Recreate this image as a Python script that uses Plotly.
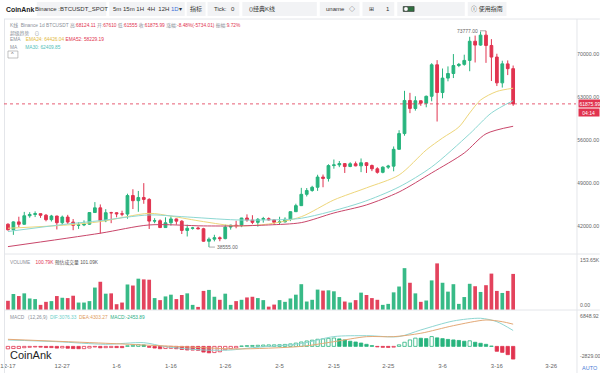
import plotly.graph_objects as go
import pandas as pd

# ---------------- data ----------------
dates = pd.date_range("2023-12-17", "2024-03-19", freq="D").strftime("%Y-%m-%d").tolist()

opens = [42278, 41374, 42657, 42271, 43652, 43869, 43997, 43739, 43016, 43613,
         42520, 43442, 42627, 42099, 42156, 42283, 44179, 44946, 42845, 44151,
         44145, 43968, 43929, 46951, 46110, 46632, 46314, 42782, 42847, 41732,
         42511, 43137, 42776, 41262, 41618, 41665, 41545, 39507, 39845, 40077,
         39933, 41816, 42120, 42035, 43288, 42952, 42582, 43075, 43185, 42993,
         42583, 42658, 43084, 44318, 45301, 47147, 47771, 48293, 49958, 49742,
         51826, 51939, 52148, 51680, 52121, 51780, 52284, 51839, 51305, 50731,
         51571, 51733, 54476, 57037, 62432, 61130, 62387, 61987, 63113, 68245,
         63724, 66074, 66823, 68124, 68313, 68955, 72078, 71452, 73072, 71388,
         69499, 65300, 68390, 67610]
highs = [42424, 42757, 43497, 44283, 44240, 44367, 43999, 43946, 43802, 43650,
         43683, 43804, 43124, 42612, 42899, 44184, 45879, 45500, 44729, 44300,
         44214, 44480, 47248, 47972, 47695, 48969, 46515, 43257, 43079, 43400,
         43578, 43198, 42930, 42195, 41840, 41881, 41689, 40128, 40555, 40285,
         42209, 42200, 42842, 43305, 43882, 43745, 43285, 43471, 43381, 43119,
         43494, 43399, 44367, 45614, 48200, 48170, 48535, 50334, 50368, 52043,
         52816, 52576, 52200, 52369, 52485, 52985, 52366, 52000, 51551, 51698,
         51950, 54938, 57588, 64000, 63676, 63114, 62433, 63231, 68500, 69000,
         67637, 67980, 69990, 68541, 69887, 72800, 73000, 73650, 73777, 72419,
         70043, 68904, 68956, 68124.11]
lows = [41250, 40542, 41811, 42206, 43330, 43442, 43308, 42746, 42720, 41424,
        42167, 42318, 41300, 41520, 41965, 42180, 44148, 40750, 42613, 42450,
        43397, 43572, 43175, 44748, 44300, 45606, 41500, 42436, 41720, 41718,
        42050, 42200, 40683, 40280, 41400, 41446, 39431, 38555, 39484, 39508,
        39822, 41394, 41620, 41804, 42683, 42276, 41884, 42541, 42880, 42222,
        42258, 42574, 42783, 44300, 45242, 46800, 47560, 47710, 48300, 49225,
        51320, 51570, 50625, 51565, 51715, 50760, 50625, 50926, 50521, 50575,
        51282, 50901, 54451, 56691, 60364, 60777, 61561, 61320, 62300, 59005,
        62786, 65551, 66082, 67861, 68094, 67194, 68620, 71333, 68555, 65600,
        64780, 64533, 66565, 61555]
closes = [41374, 42657, 42271, 43652, 43869, 43997, 43739, 43016, 43613, 42520,
          43442, 42627, 42099, 42156, 42283, 44179, 44946, 42845, 44151, 44145,
          43968, 43929, 46951, 46110, 46632, 46314, 42782, 42847, 41732, 42511,
          43137, 42776, 41262, 41618, 41665, 41545, 39507, 39845, 40077, 39933,
          41816, 42120, 42035, 43288, 42952, 42582, 43075, 43185, 42993, 42583,
          42658, 43084, 44318, 45301, 47147, 47771, 48293, 49958, 49742, 51826,
          51939, 52148, 51680, 52121, 51780, 52284, 51839, 51305, 50731, 51571,
          51733, 54476, 57037, 62432, 61130, 62387, 61987, 63113, 68245, 63724,
          66074, 66823, 68124, 68313, 68955, 72078, 71452, 73072, 71388, 69499,
          65300, 68393, 67609, 61875.99]

volumes_k = [25.7, 44.7, 39.0, 46.5, 32.2, 30.5, 14.3, 22.8, 24.8, 39.0,
             34.2, 33.3, 39.9, 20.8, 20.8, 24.8, 62.7, 78.9, 45.6, 46.5,
             16.2, 20.8, 71.3, 68.4, 87.5, 85.5, 84.6, 33.3, 27.6, 37.9,
             42.8, 30.5, 41.9, 46.5, 14.3, 8.6, 53.3, 56.1, 37.0, 28.5,
             45.6, 14.3, 24.8, 28.5, 35.1, 37.0, 33.3, 27.6, 9.4, 15.1,
             27.6, 22.8, 32.2, 42.8, 72.1, 23.7, 28.5, 57.0, 54.2, 55.0,
             52.2, 36.2, 23.7, 20.8, 27.6, 48.5, 41.9, 33.3, 28.5, 14.3,
             17.1, 49.3, 65.6, 116.9, 76.1, 46.5, 22.8, 26.5, 82.7, 130.2,
             76.1, 51.3, 72.1, 17.1, 36.2, 73.2, 66.4, 50.4, 69.3, 101.7,
             53.3, 47.6, 53.3, 100.79]

macd_hist = [-480, -420, -400, -260, -180, -120, -150, -230, -240, -330,
             -300, -360, -430, -450, -440, -320, -120, -280, -250, -230,
             -240, -250, 120, 200, 330, 280, -180, -320, -450, -420,
             -380, -460, -600, -700, -720, -760, -1100, -1250, -1200, -1050,
             -650, -450, -300, 80, 150, 180, 220, 260, 290, 300,
             320, 380, 480, 640, 850, 1050, 1200, 1380, 1450, 1560,
             1620, 1450, 1250, 1000, 850, 650, 400, 150, -100, -180,
             -200, -150, 300, 800, 1250, 1600, 1580, 1500, 1900, 1650,
             1500, 1350, 1250, 1150, 1000, 1080, 800, 600, 400, 60,
             -950, -1150, -1600, -2453.89]

# indicator lines (day index -> value)
ema24_idx = [0, 11, 17, 26, 30, 36, 42, 48, 54, 60, 66, 72, 77, 80, 83, 85, 87, 90, 93]
ema24_val = [41620, 42160, 42700, 44050, 43600, 42700, 42000, 42320, 43500, 46230,
             48200, 50300, 54370, 56320, 58100, 60400, 62500, 63900, 64426.04]
ma30_idx = [0, 11, 17, 26, 32, 42, 48, 54, 65, 72, 78, 85, 89, 93]
ma30_val = [41090, 42320, 42860, 43790, 43510, 42980, 42980, 43250, 45790, 48350,
            51600, 57000, 60400, 62409.85]
ema52_idx = [0, 17, 26, 36, 42, 48, 54, 60, 66, 72, 78, 84, 88, 93]
ema52_val = [38630, 40810, 42160, 42000, 42000, 42160, 42540, 44110, 45420, 47530,
             50630, 53880, 57000, 58229.19]
dif_idx = [0, 9, 18, 25, 29, 36, 41, 45, 54, 60, 66, 72, 76, 82, 87, 90, 93]
dif_val = [1240, 910, 410, 720, -60, -700, -700, -250, 550, 1900, 2070, 1900, 3180,
           4920, 5440, 4780, 3076.33]
dea_idx = [0, 18, 36, 42, 54, 60, 66, 71, 76, 82, 88, 91, 93]
dea_val = [1370, 600, -250, -500, 0, 910, 1880, 1880, 2540, 4010, 5110, 4780, 4303.27]

tick_dates = ["2023-12-17", "2023-12-27", "2024-01-06", "2024-01-16", "2024-01-26",
              "2024-02-05", "2024-02-15", "2024-02-25", "2024-03-06", "2024-03-16",
              "2024-03-26"]
tick_labels = ["12-17", "12-27", "1-6", "1-16", "1-26", "2-5", "2-15", "2-25",
               "3-6", "3-16", "3-26"]
price_ticks = [42000, 49000, 56000, 63000, 70000]

# ---------------- styling ----------------
UP = "#27b47d"
DOWN = "#e1334f"
C_EMA24 = "#eed67a"
C_MA30 = "#8dd8d3"
C_EMA52 = "#c9466a"
C_DIF = "#8fd6d2"
C_DEA = "#e3a977"
GRAY = "#8a8f98"
FONT = "Liberation Sans, Noto Sans CJK SC, sans-serif"

W, H = 600, 373
ML, MR, MT, MB = 0, 24, 19, 12
PW, PH = W - ML - MR, H - MT - MB


def px(x):
    return (x - ML) / PW


def py(y):
    return (H - MB - y) / PH


fig = go.Figure()

fig.add_trace(go.Candlestick(
    x=dates, open=opens, high=highs, low=lows, close=closes,
    increasing=dict(line=dict(color=UP, width=1), fillcolor=UP),
    decreasing=dict(line=dict(color=DOWN, width=1), fillcolor=DOWN),
    xaxis="x", yaxis="y", hoverinfo="skip"))

for idx, val, col in [(ema24_idx, ema24_val, C_EMA24), (ma30_idx, ma30_val, C_MA30),
                      (ema52_idx, ema52_val, C_EMA52)]:
    fig.add_trace(go.Scatter(x=[dates[i] for i in idx], y=val, mode="lines",
                             line=dict(color=col, width=1, shape="spline", smoothing=0.8),
                             xaxis="x", yaxis="y", hoverinfo="skip"))

vol_colors = [UP if c >= o else DOWN for o, c in zip(opens, closes)]
DAY = 86400000
fig.add_trace(go.Bar(x=dates, y=volumes_k, width=0.68 * DAY,
                     marker=dict(color=vol_colors, opacity=0.92, line=dict(width=0)),
                     xaxis="x", yaxis="y2", hoverinfo="skip"))

fills, lines = [], []
for k, v in enumerate(macd_hist):
    col = UP if v > 0 else DOWN
    prev = macd_hist[k - 1] if k > 0 else -1e18
    hollow = prev < v
    fills.append("rgba(255,255,255,1)" if hollow else col)
    lines.append(col)
fig.add_trace(go.Bar(x=dates, y=macd_hist, width=0.62 * DAY,
                     marker=dict(color=fills, line=dict(color=lines, width=0.8)),
                     xaxis="x", yaxis="y3", hoverinfo="skip"))
for idx, val, col in [(dif_idx, dif_val, C_DIF), (dea_idx, dea_val, C_DEA)]:
    fig.add_trace(go.Scatter(x=[dates[i] for i in idx], y=val, mode="lines",
                             line=dict(color=col, width=1, shape="spline", smoothing=0.8),
                             xaxis="x", yaxis="y3", hoverinfo="skip"))

fig.update_layout(
    width=W, height=H, margin=dict(l=ML, r=MR, t=MT, b=MB),
    paper_bgcolor="white", plot_bgcolor="white", showlegend=False,
    barmode="overlay", boxgap=0.28, hovermode=False,
    font=dict(family=FONT, size=7, color=GRAY),
    xaxis=dict(domain=[0, 1], anchor="y3", type="date",
               range=["2023-12-16 06:30", "2024-03-30 13:40"],
               rangeslider=dict(visible=False), showgrid=False, zeroline=False,
               showline=False, ticks="", ticklen=0, tickvals=tick_dates, ticktext=tick_labels,
               ticklabeloverflow="allow",
               tickfont=dict(size=6, color="#666")),
    yaxis=dict(domain=[py(253), 1], anchor="x", side="right", range=[37590, 75700],
               showgrid=False, zeroline=False, showline=False, ticks="", ticklen=0,
               tickvals=price_ticks, tickformat=".2f",
               tickfont=dict(size=5.3, color="#666")),
    yaxis2=dict(domain=[py(310), py(255)], anchor="x", side="right", range=[0, 153.65],
                showgrid=False, zeroline=False, showticklabels=False, ticks=""),
    yaxis3=dict(domain=[0, py(311)], anchor="x", side="right", range=[-2829, 6848.92],
                showgrid=False, zeroline=False, showticklabels=False, ticks=""),
)

shapes = []
LINE_C = "#e4e6ea"
# separators
for yy in [19, 254, 310]:
    shapes.append(dict(type="line", xref="paper", yref="paper", x0=px(0), x1=px(600),
                       y0=py(yy), y1=py(yy), line=dict(color=LINE_C, width=1)))
shapes.append(dict(type="line", xref="paper", yref="paper", x0=px(577), x1=px(577),
                   y0=py(19), y1=py(373), line=dict(color=LINE_C, width=1)))
shapes.append(dict(type="line", xref="paper", yref="paper", x0=px(0.5), x1=px(0.5),
                   y0=py(19), y1=py(373), line=dict(color=LINE_C, width=1)))
# last price dashed line
shapes.append(dict(type="line", xref="paper", yref="y", x0=0, x1=1,
                   y0=closes[-1], y1=closes[-1], line=dict(color=DOWN, width=0.8, dash="dot")))
# toolbar boxes
BOX_C = "#f2f3f5"
boxes = [(33, 103), (106, 182), (184, 203), (205, 237), (240, 315), (318, 358),
         (361, 393), (396, 464), (467, 506)]
for x0, x1 in boxes:
    shapes.append(dict(type="rect", xref="paper", yref="paper", x0=px(x0), x1=px(x1),
                       y0=py(16), y1=py(2), fillcolor=BOX_C, line=dict(width=0), layer="below"))
# toggle icon
shapes.append(dict(type="rect", xref="paper", yref="paper", x0=px(402), x1=px(413),
                   y0=py(11.5), y1=py(6.5), fillcolor="#2f6f3f", line=dict(color="#333", width=0.6)))
shapes.append(dict(type="circle", xref="paper", yref="paper", x0=px(402.5), x1=px(407),
                   y0=py(11.3), y1=py(6.7), fillcolor="white", line=dict(color="#333", width=0.5)))
# collapse button
shapes.append(dict(type="rect", xref="paper", yref="paper", x0=px(4), x1=px(14),
                   y0=py(58), y1=py(51), fillcolor="white", line=dict(color="#999", width=0.6)))
fig.update_layout(shapes=shapes)

ann = []


def text(x, y, s, size=6.5, color="#333", xanchor="left", **kw):
    ann.append(dict(xref="paper", yref="paper", x=px(x), y=py(y), text=s, showarrow=False,
                    xanchor=xanchor, yanchor="middle", font=dict(size=size, color=color,
                                                                 family=FONT), **kw))


def red(s):
    return f'<span style="color:{DOWN}">{s}</span>'


# toolbar
text(0, 9, "<b>CoinAnk</b>", size=6.9, color="#1b1b1b")
text(68, 9, "Binance :BTCUSDT_SPOT", xanchor="center", size=6)
text(144, 9, '5m&nbsp;15m&nbsp;1H&nbsp;&nbsp;4H&nbsp;&nbsp;12H&nbsp;'
     '<span style="color:#3b6fd8">1D</span>▾', xanchor="center", size=6)
text(193.5, 9, "指标", xanchor="center", size=6)
text(209, 9, "Tick:", size=6)
text(231, 9, "0", xanchor="center", size=6)
text(245, 9, "()经典K线", size=6)
text(322, 9, "uname", size=6)
text(350, 9, "◇", xanchor="center", size=6)
text(366, 9, "⊞", size=6)
text(387, 9, "1", xanchor="center", size=6)
text(486.5, 9, "ⓘ 使用指南", xanchor="center", size=6)

# main header
HF = 4.8
text(4, 25, "K线&nbsp;&nbsp;Binance 1d BTCUSDT 高:" + red("68124.11") + " 开:" + red("67610")
     + " 低:" + red("61555") + " 收:" + red("61875.99") + " 涨幅:" + red("-8.48%(-5734.01)")
     + " 振幅:" + red("9.72%"), size=HF, color=GRAY)
text(4, 33, "超级趋势&nbsp;&nbsp;&nbsp;&nbsp;⊙", size=HF, color=GRAY)
text(4, 40, f'EMA&nbsp;&nbsp;&nbsp;&nbsp;<span style="color:#e2b93b">EMA24: 64426.04</span>'
     f'&nbsp;<span style="color:{DOWN}">EMA52: 58229.19</span>', size=HF, color=GRAY)
text(4, 47, 'MA&nbsp;&nbsp;&nbsp;&nbsp;&nbsp;&nbsp;<span style="color:#4fc1ba">MA30: 62409.85</span>',
     size=HF, color=GRAY)
text(9, 54.5, "^", size=5.5, color="#666", xanchor="center")

# volume header
text(4, 262, f'VOLUME&nbsp;&nbsp;&nbsp;&nbsp;<span style="color:{DOWN}">100.79K</span>'
     f'&nbsp;<span style="color:#555">预估成交量 101.09K</span>', size=HF, color=GRAY)
# macd header
text(4, 317, f'MACD&nbsp;&nbsp;&nbsp;(12,26,9)&nbsp;&nbsp;<span style="color:#6ccfc9">DIF:3076.33</span>'
     f'&nbsp;&nbsp;<span style="color:#e09a5e">DEA:4303.27</span>&nbsp;&nbsp;'
     f'<span style="color:#2cae86">MACD:-2453.89</span>', size=HF, color=GRAY)

# watermark
text(4, 355, "CoinAnk", size=11, color="#1e1e1e")
# AUTO
text(590, 368, "AUTO", size=5.5, color="#4a7bd6", xanchor="center")

# pane edge labels on axis scale
for yref, val, s, anc in [("y2", 153.65, "153.65K", "top"), ("y2", 0, "0.00", "bottom"),
                          ("y3", 6848.92, "6848.92", "top"), ("y3", -2829, "-2829.00", "bottom")]:
    ann.append(dict(xref="paper", yref=yref, x=px(578), y=val, text=s, showarrow=False,
                    xanchor="left", yanchor=anc, font=dict(size=5.2, color="#666", family=FONT)))

# last price tag
ann.append(dict(xref="paper", yref="y", x=px(578), y=closes[-1], text="61875.99", showarrow=False,
                xanchor="left", yanchor="middle", bgcolor=DOWN, borderpad=0.5,
                font=dict(size=5, color="white", family=FONT)))
ann.append(dict(xref="paper", yref="y", x=px(578), y=closes[-1], yshift=-9,
                text="&nbsp;&nbsp;04:14&nbsp;&nbsp;&nbsp;", showarrow=False,
                xanchor="left", yanchor="middle", bgcolor=DOWN, borderpad=0.5,
                font=dict(size=5, color="white", family=FONT)))

# high / low markers
hi_i = highs.index(max(highs))
lo_i = lows.index(min(lows))
ann.append(dict(xref="x", yref="y", x=dates[hi_i], y=highs[hi_i], text=f"{highs[hi_i]:.2f}",
                showarrow=True, arrowhead=0, arrowwidth=0.7, arrowcolor="#888", ax=-6, ay=0,
                xanchor="right", font=dict(size=5, color="#666", family=FONT)))
ann.append(dict(xref="x", yref="y", x=dates[lo_i], y=lows[lo_i], text=f"{lows[lo_i]:.2f}",
                showarrow=True, arrowhead=0, arrowwidth=0.7, arrowcolor="#888", ax=6, ay=0,
                xanchor="left", font=dict(size=5, color="#666", family=FONT)))

fig.update_layout(annotations=ann)
fig.write_html("out.html", config={"displayModeBar": False},
               post_script="document.body.style.margin='0';document.body.style.padding='0';"
                           "document.body.style.overflow='hidden';")
